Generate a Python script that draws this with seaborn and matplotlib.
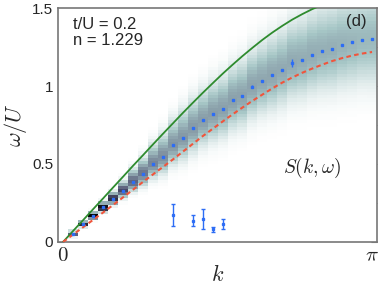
import numpy as np
import matplotlib
matplotlib.use("Agg")
import matplotlib.pyplot as plt
import seaborn as sns

sns.set_style("ticks")
plt.rcParams['font.family'] = ['Liberation Sans', 'DejaVu Sans']
plt.rcParams['mathtext.fontset'] = 'cm'

# momentum grid index (k = j*pi/31)
k_index = np.arange(1, 32)

# main branch (blue points)
omega_peak = [0.053, 0.113, 0.167, 0.222, 0.276, 0.329, 0.385, 0.438, 0.502, 0.545,
              0.620, 0.667, 0.731, 0.781, 0.822, 0.853, 0.908, 0.936, 0.996, 1.034,
              1.068, 1.103, 1.150, 1.167, 1.201, 1.224, 1.239, 1.265, 1.280, 1.293, 1.301]
peak_err = [0.004, 0.004, 0.004, 0.004, 0.004, 0.004, 0.004, 0.005, 0.005, 0.005,
            0.005, 0.005, 0.005, 0.006, 0.006, 0.006, 0.006, 0.008, 0.010, 0.006,
            0.006, 0.006, 0.025, 0.006, 0.006, 0.006, 0.006, 0.006, 0.006, 0.006, 0.006]

# spectral weight: peak darkness and width below / above the peak
peak_amp = [0.62, 0.85, 1.00, 1.00, 0.82, 0.68, 0.58, 0.52, 0.47, 0.44,
            0.42, 0.41, 0.40, 0.39, 0.39, 0.38, 0.38, 0.37, 0.37, 0.36,
            0.36, 0.35, 0.35, 0.34, 0.34, 0.33, 0.33, 0.32, 0.31, 0.30, 0.30]
width_lo = [0.010, 0.011, 0.013, 0.016, 0.020, 0.027, 0.035, 0.045, 0.055, 0.065,
            0.075, 0.085, 0.095, 0.100, 0.105, 0.110, 0.115, 0.120, 0.125, 0.130,
            0.135, 0.140, 0.145, 0.150, 0.155, 0.160, 0.165, 0.170, 0.175, 0.175, 0.180]
width_hi = [0.010, 0.012, 0.015, 0.019, 0.025, 0.035, 0.048, 0.060, 0.075, 0.090,
            0.100, 0.110, 0.115, 0.120, 0.125, 0.130, 0.135, 0.140, 0.145, 0.150,
            0.155, 0.160, 0.165, 0.170, 0.175, 0.180, 0.180, 0.185, 0.185, 0.190, 0.190]

# low-energy points with error bars
low_index = [11, 13, 14, 15, 16]
low_omega = [0.173, 0.137, 0.147, 0.081, 0.115]
low_err = [0.073, 0.035, 0.065, 0.017, 0.033]

# green solid curve (index 0..27)
green_omega = [0.0, 0.070, 0.139, 0.209, 0.278, 0.348, 0.417, 0.487, 0.555, 0.624,
               0.692, 0.759, 0.826, 0.891, 0.955, 1.017, 1.078, 1.136, 1.192, 1.245,
               1.296, 1.343, 1.386, 1.426, 1.461, 1.493, 1.520, 1.542]
# red dashed curve (index 0..31)
red_omega = [0.0, 0.047, 0.094, 0.141, 0.188, 0.236, 0.285, 0.334, 0.384, 0.432,
             0.480, 0.528, 0.578, 0.628, 0.678, 0.725, 0.772, 0.818, 0.862, 0.905,
             0.945, 0.985, 1.022, 1.055, 1.085, 1.112, 1.137, 1.160, 1.179, 1.195,
             1.208, 1.218]

dk = np.pi / 31
k = k_index * dk

# build the S(k, w) image column by column
w_edges = np.arange(0, 1.62, 0.02)
w_mid = 0.5 * (w_edges[:-1] + w_edges[1:])
k_edges = np.arange(-0.5, 31.6, 1.0) * dk
image = np.zeros((len(w_mid), 32))
for j in range(31):
    sig = np.where(w_mid < omega_peak[j], width_lo[j], width_hi[j])
    image[:, j + 1] = peak_amp[j] * np.exp(-(w_mid - omega_peak[j]) ** 2 / (2 * sig ** 2))

fig, ax = plt.subplots(figsize=(3.82, 2.87), dpi=100)
fig.subplots_adjust(left=0.152, right=0.987, bottom=0.157, top=0.972)

ax.pcolormesh(k_edges, w_edges, image, cmap="bone_r", vmin=0, vmax=1.0,
              shading="flat", rasterized=True, zorder=1)

sns.lineplot(x=np.arange(28) * dk, y=green_omega, color="#2e8b2e", lw=1.3, ax=ax, zorder=3)
sns.lineplot(x=np.arange(32) * dk, y=red_omega, color="#f0553c", lw=1.5,
             linestyle=(0, (2.2, 1.6)), ax=ax, zorder=3)

ax.errorbar(k, omega_peak, yerr=peak_err, fmt="s", ms=1.6, color="#2d6df5",
            elinewidth=1.0, capsize=0, zorder=4)
ax.errorbar(np.array(low_index) * dk, low_omega, yerr=low_err, fmt="s", ms=1.4,
            color="#2d6df5", elinewidth=1.0, capsize=1.2, zorder=4)

ax.set_xlim(-0.5 * dk, np.pi + 0.5 * dk)
ax.set_ylim(0, 1.5)
ax.set_xticks([0, np.pi])
ax.set_xticklabels(["$0$", r"$\pi$"], fontsize=15)
ax.set_yticks([0, 0.5, 1.0, 1.5])
ax.set_yticklabels(["0", "0.5", "1", "1.5"], fontsize=11)
ax.set_yticks([0.25, 0.75, 1.25], minor=True)
ax.tick_params(which="both", direction="in", right=True, top=False, length=4,
               width=0.8, color="#888888")
ax.tick_params(axis="x", pad=3)
for s in ax.spines.values():
    s.set_color("#777777")
    s.set_linewidth(1.2)

ax.set_xlabel("$k$", fontsize=16, labelpad=0)
ax.set_ylabel(r"$\omega/U$", fontsize=16, labelpad=2)

ax.text(0.047, 0.962, "t/U = 0.2\nn = 1.229", transform=ax.transAxes, fontsize=12,
        va="top", ha="left", linespacing=1.05)
ax.text(0.966, 0.975, "(d)", transform=ax.transAxes, fontsize=12, va="top", ha="right")
ax.text(0.705, 0.316, r"$S(k,\omega)$", transform=ax.transAxes, fontsize=14,
        va="center", ha="left")

fig.savefig("out.png", dpi=100)
